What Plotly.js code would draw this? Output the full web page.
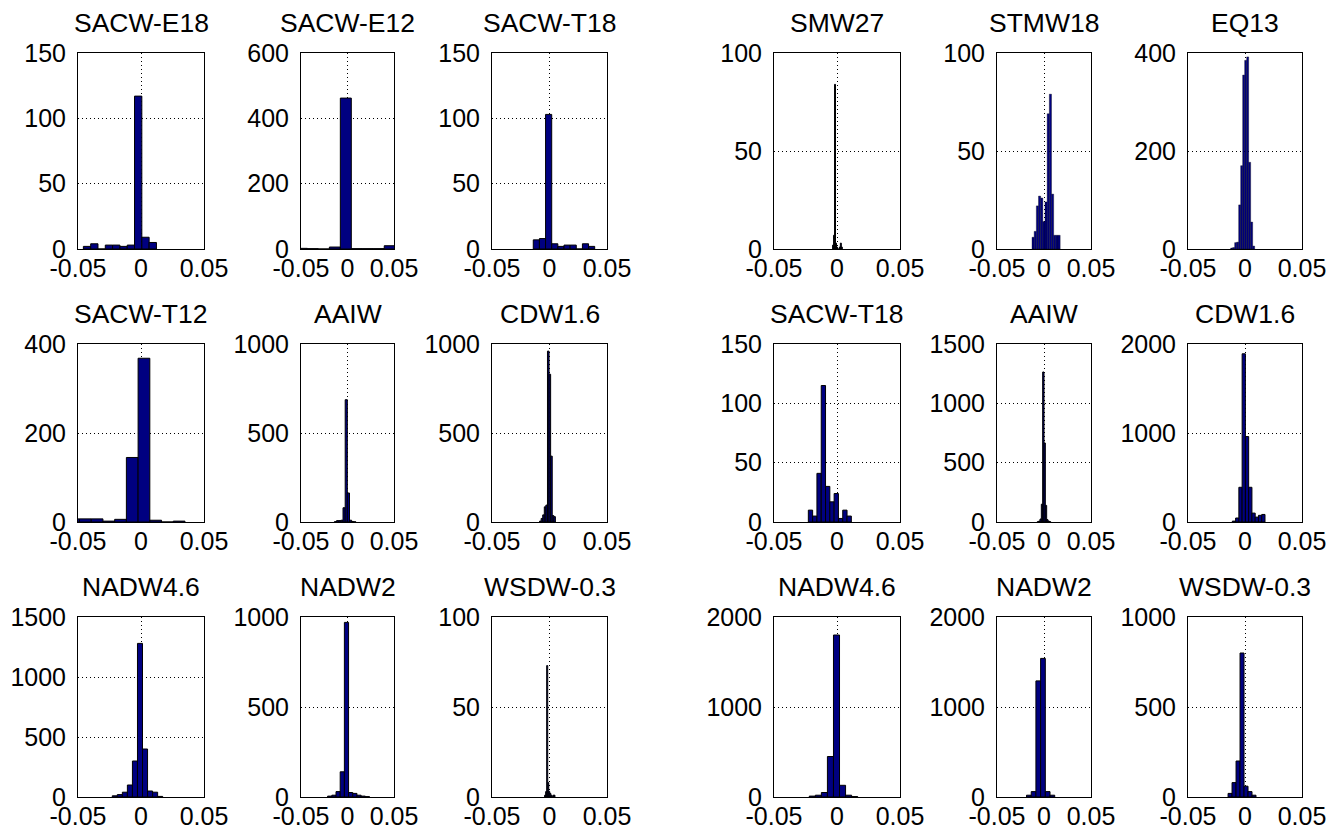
<!DOCTYPE html>
<html><head><meta charset="utf-8">
<script src="https://cdn.plot.ly/plotly-3.0.1.min.js"></script>
<style>html,body{margin:0;padding:0;background:#fff;}#chart{width:1330px;height:831px;}</style>
</head><body><div id="chart"></div>
<script>
// ---------- data (bin centres and counts) ----------
const titles = ['SACW-E18','SACW-E12','SACW-T18','SMW27','STMW18','EQ13',
                'SACW-T12','AAIW','CDW1.6','SACW-T18','AAIW','CDW1.6',
                'NADW4.6','NADW2','WSDW-0.3','NADW4.6','NADW2','WSDW-0.3'];
const yMax = [150,600,150,100,100,400, 400,1000,1000,150,1500,2000, 1500,1000,100,2000,2000,1000];
const yTicks = [[0,50,100,150],[0,200,400,600],[0,50,100,150],[0,50,100],[0,50,100],[0,200,400],
                [0,200,400],[0,500,1000],[0,500,1000],[0,50,100,150],[0,500,1000,1500],[0,1000,2000],
                [0,500,1000,1500],[0,500,1000],[0,50,100],[0,1000,2000],[0,1000,2000],[0,500,1000]];
const xTickVals = [-0.05, 0, 0.05];
const xTickText = ['-0.05', '0', '0.05'];

const binsSacwE18L = [-0.04284,-0.03704,-0.03124,-0.02544,-0.01964,-0.01384,-0.00804,-0.00224,0.00356,0.00936];
const cntSacwE18L  = [2,4,0,3,3,2,3,117,9,5];
const binsSacwE12L = [-0.0490,-0.0372,-0.0254,-0.0136,-0.0018,0.0100,0.0218,0.0336,0.0454];
const cntSacwE12L  = [2,1,0,6,462,1,1,1,10];
const binsSacwT18L = [-0.01143,-0.00609,-0.00075,0.00459,0.00993,0.01527,0.02061,0.02595,0.03129,0.03663];
const cntSacwT18L  = [7,8,103,4,2,3,3,0,4,2];
const binsSmw27R   = [-0.00311,-0.00234,-0.00157,-0.0008,-0.00003,0.00074,0.00151,0.00228,0.00305,0.00382];
const cntSmw27R    = [2,7,84,3,1,0,0,1,3,1];
const binsStmw18R  = [-0.01161,-0.00931,-0.00700,-0.00470,-0.00239,-0.00009,0.00222,0.00452,0.00683,0.00913,0.01144,0.01374,0.01605];
const cntStmw18R   = [6,9,22,27,26,14,24,69,79,28,7,7,7];
const binsEq13R    = [-0.0117,-0.00994,-0.00819,-0.00643,-0.00468,-0.00292,-0.00117,0.00058,0.00234,0.00409,0.00585,0.0076];
const cntEq13R     = [2,3,13,14,90,170,355,385,392,177,55,6];

const binsSacwT12L = [-0.05345,-0.04415,-0.03485,-0.02555,-0.01625,-0.00695,0.00235,0.01165,0.02095,0.03025];
const cntSacwT12L  = [7,7,7,2,6,145,368,4,0,2];
const binsAaiwL    = [-0.0129,-0.01059,-0.00827,-0.00596,-0.00365,-0.00133,0.00098,0.00329,0.00560,0.00792];
const cntAaiwL     = [2,8,8,10,80,687,163,10,3,1];
const binsCdwL     = [-0.00796,-0.00658,-0.00521,-0.00383,-0.00245,-0.00107,0.00031,0.00169,0.00306,0.00444];
const cntCdwL      = [5,20,40,85,95,960,830,370,36,30];
const binsSacwT18R = [-0.02104,-0.01763,-0.01422,-0.01080,-0.00739,-0.00398,-0.00057,0.00285,0.00626,0.00967];
const cntSacwT18R  = [10,5,41,115,30,17,24,3,10,5];
const binsAaiwR    = [-0.00638,-0.00496,-0.00355,-0.00213,-0.00071,0.00071,0.00213,0.00355,0.00496,0.00638];
const cntAaiwR     = [3,8,25,150,1264,666,140,20,8,3];
const binsCdwR     = [-0.00968,-0.00681,-0.00395,-0.00108,0.00178,0.00465,0.00751,0.01038,0.01325,0.01611];
const cntCdwR      = [10,45,390,1890,960,390,100,55,75,85];

const binsNadw46L  = [-0.0208,-0.0168,-0.0128,-0.0088,-0.0048,-0.0008,0.0032,0.0072,0.0112,0.0152];
const cntNadw46L   = [10,20,40,100,300,1280,400,50,40,5];
const binsNadw2L   = [-0.0191,-0.0146,-0.0101,-0.0056,-0.0011,0.0034,0.0079,0.0124,0.0169,0.0214];
const cntNadw2L    = [5,10,30,140,970,25,20,10,5,2];
const binsWsdwL    = [-0.0038,-0.0029,-0.0020,-0.0011,-0.0002,0.0007,0.0016,0.0025,0.0034,0.0043];
const cntWsdwL     = [1,3,73,8,3,2,1,0,1,1];
const binsNadw46R  = [-0.0196,-0.0148,-0.0100,-0.0052,-0.0004,0.0044,0.0092,0.0140];
const cntNadw46R   = [10,20,50,450,1800,130,20,5];
const binsNadw2R   = [-0.0161,-0.0111,-0.0061,-0.0011,0.0039,0.0089];
const cntNadw2R    = [20,60,1290,1540,60,20];
const binsWsdwR    = [-0.0131,-0.0096,-0.0061,-0.0026,0.0009,0.0044,0.0079];
const cntWsdwR     = [20,80,200,800,60,30,10];

const panelBins = [binsSacwE18L,binsSacwE12L,binsSacwT18L,binsSmw27R,binsStmw18R,binsEq13R,
                   binsSacwT12L,binsAaiwL,binsCdwL,binsSacwT18R,binsAaiwR,binsCdwR,
                   binsNadw46L,binsNadw2L,binsWsdwL,binsNadw46R,binsNadw2R,binsWsdwR];
const panelCounts = [cntSacwE18L,cntSacwE12L,cntSacwT18L,cntSmw27R,cntStmw18R,cntEq13R,
                     cntSacwT12L,cntAaiwL,cntCdwL,cntSacwT18R,cntAaiwR,cntCdwR,
                     cntNadw46L,cntNadw2L,cntWsdwL,cntNadw46R,cntNadw2R,cntWsdwR];

// ---------- layout / style ----------
const W = 1330, H = 831;
const colPx = [[78,204],[301,394],[492,607],[774,900],[997,1091],[1188,1302]];
const rowPx = [[53,249],[344,522],[617,797]];
const edgeW = [1,1,1,1,0.35,0.35, 1,1,1,1,1,1, 1,1,1,1,1,1];
const FONT = 'Liberation Sans, Arial, sans-serif';

const traces = [];
const layout = {
  width: W, height: H, margin: {l:0,r:0,t:0,b:0}, showlegend: false,
  paper_bgcolor: '#fff', plot_bgcolor: '#fff', bargap: 0, annotations: []
};
const axisCommon = {
  showline: true, mirror: true, linecolor: '#000', linewidth: 1,
  showgrid: true, gridcolor: '#000', gridwidth: 1, griddash: '1px,3px',
  zeroline: false, ticks: '', fixedrange: true,
  tickfont: {family: FONT, size: 25, color: '#000'}, ticklabeloverflow: 'allow'
};

titles.forEach((t, i) => {
  const r = Math.floor(i / 6), c = i % 6, n = i + 1;
  const sfx = n === 1 ? '' : String(n);
  traces.push({
    type: 'bar', x: panelBins[i], y: panelCounts[i], xaxis: 'x' + sfx, yaxis: 'y' + sfx,
    marker: {color: '#000080', line: {color: '#000', width: edgeW[i]}}, hoverinfo: 'skip'
  });
  const xd = [colPx[c][0] / W, colPx[c][1] / W];
  const yd = [1 - rowPx[r][1] / H, 1 - rowPx[r][0] / H];
  layout['xaxis' + sfx] = Object.assign({}, axisCommon, {
    domain: xd, anchor: 'y' + sfx, range: [-0.05, 0.05],
    tickmode: 'array', tickvals: xTickVals, ticktext: xTickText, ticklabelstandoff: -3
  });
  layout['yaxis' + sfx] = Object.assign({}, axisCommon, {
    domain: yd, anchor: 'x' + sfx, range: [0, yMax[i]],
    tickmode: 'array', tickvals: yTicks[i], ticktext: yTicks[i].map(String), ticklabelstandoff: 6
  });
  layout.annotations.push({
    text: t, xref: 'paper', yref: 'paper', x: (xd[0] + xd[1]) / 2, y: yd[1],
    xanchor: 'center', yanchor: 'bottom', yshift: 13, showarrow: false,
    font: {family: FONT, size: 26.5, color: '#000'}
  });
});

Plotly.newPlot('chart', traces, layout, {staticPlot: true, displayModeBar: false});
</script>
</body></html>
